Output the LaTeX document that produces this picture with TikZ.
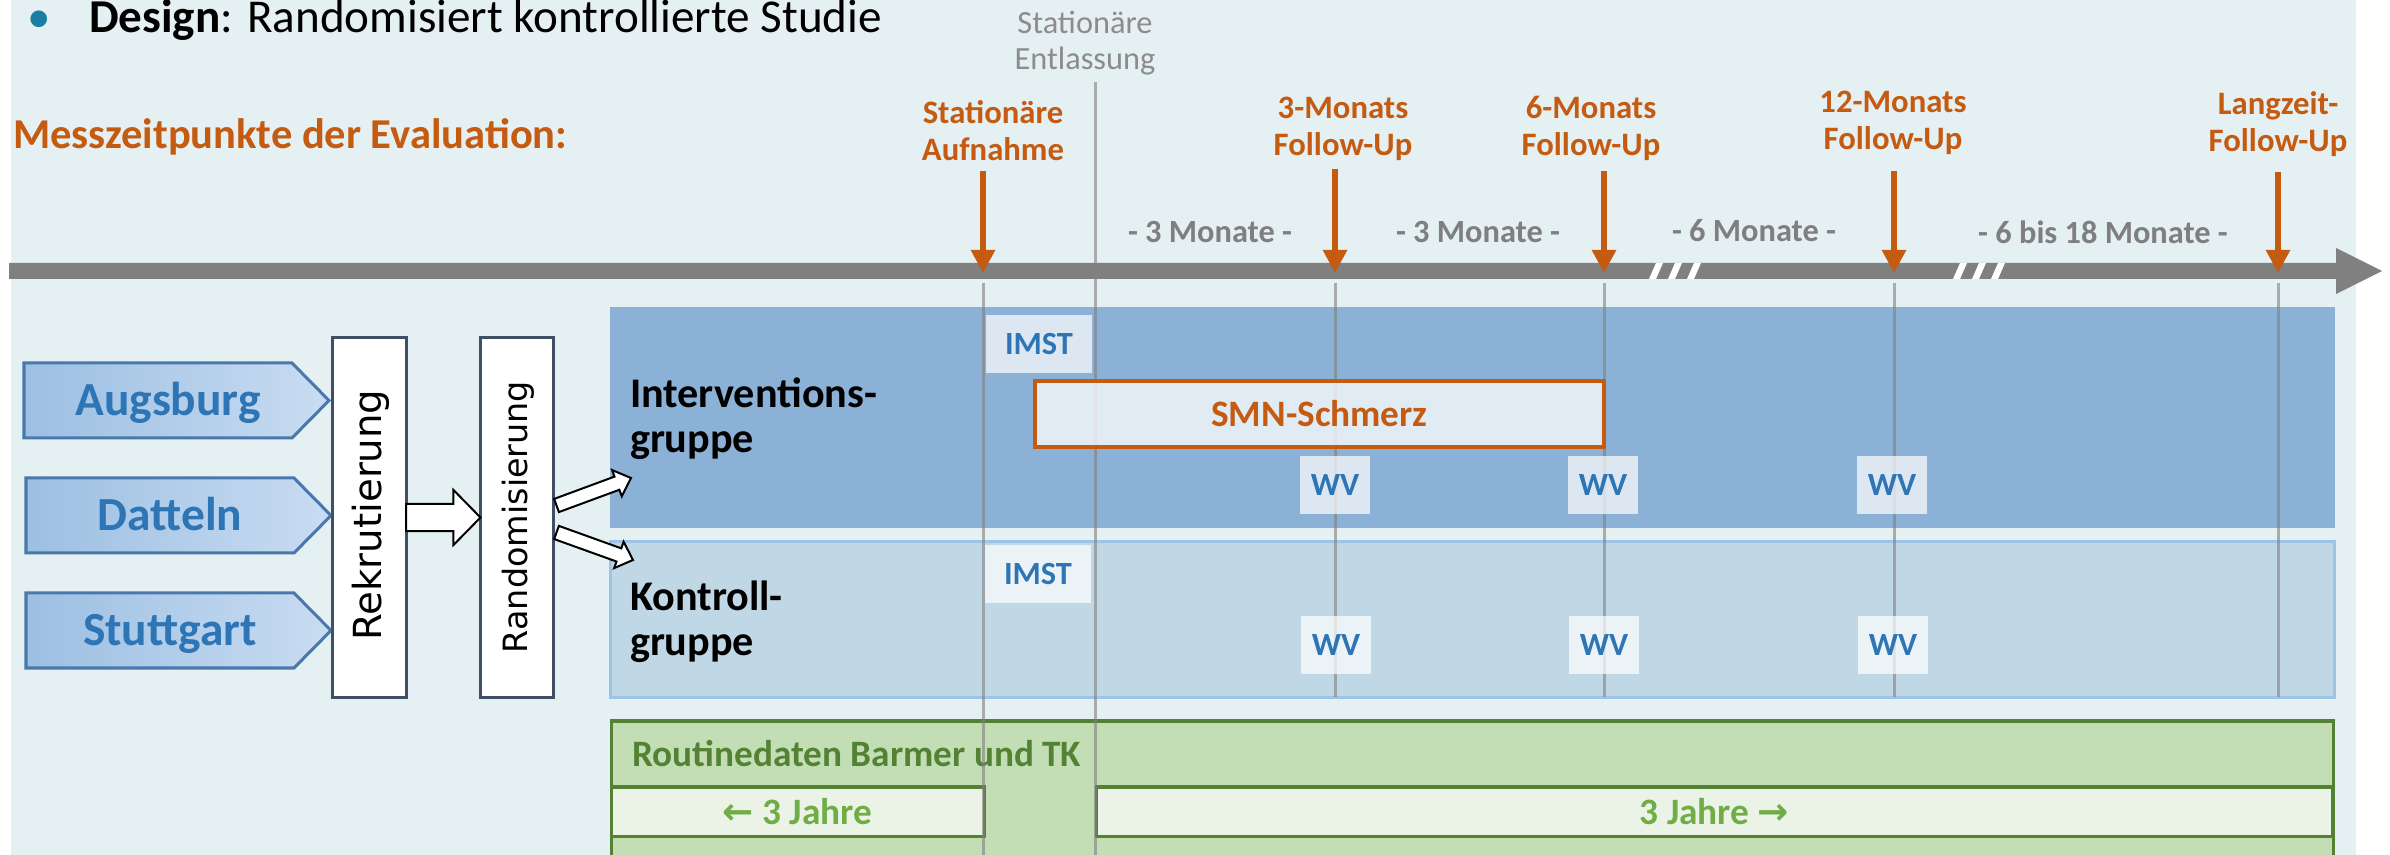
\documentclass[tikz,border=0pt]{standalone}
\usepackage{fontspec}
\setmainfont{Carlito}
\newfontfamily\vfont{DejaVu Sans}
\newfontfamily\arrowfont{DejaVu Sans}
\usetikzlibrary{calc,arrows.meta}

\definecolor{bg}{HTML}{E4F0F2}
\definecolor{axisgray}{HTML}{808080}
\definecolor{orng}{HTML}{C55A11}
\definecolor{txtgray}{HTML}{7F7F7F}
\definecolor{softgray}{HTML}{8C8C8C}
\definecolor{bluetxt}{HTML}{2E75B6}
\definecolor{intfill}{HTML}{8BB1D6}
\definecolor{kontfill}{HTML}{C0D8E6}
\definecolor{kontedge}{HTML}{9DC3E6}
\definecolor{grfill}{HTML}{C3DEB5}
\definecolor{gredge}{HTML}{548235}
\definecolor{grlight}{HTML}{EBF3E7}
\definecolor{grtext}{HTML}{70AD47}
\definecolor{siteA}{HTML}{9CBFE2}
\definecolor{siteB}{HTML}{C9DCF2}
\definecolor{siteedge}{HTML}{4A78AC}
\definecolor{stepedge}{HTML}{3E4F66}
\definecolor{bulletcol}{HTML}{1B7FA3}

% block arrow: #1 start, #2 tip, #3 half shaft, #4 half head, #5 head length
\newcommand\blockarrow[5]{%
  \coordinate (ba-h) at ($(#2)!#5!(#1)$);
  \draw[blockarr]
    ($(#1)!#3!90:(#2)$) -- ($(ba-h)!#3!90:(#2)$) -- ($(ba-h)!#4!90:(#2)$)
    -- (#2)
    -- ($(ba-h)!#4!-90:(#2)$) -- ($(ba-h)!#3!-90:(#2)$) -- ($(#1)!#3!-90:(#2)$)
    -- cycle;
}
% pentagon-shaped site label: #1 name, #2 left x, #3 top y, #4 text
\newcommand\sitelabel[4]{%
  \path[sitebox] (#2,#3) -- ++(268,0) -- ++(37,37.5) -- ++(-37,37.5) -- ++(-268,0) -- cycle;
  \node[sitetext] (#1) at (#2+144,#3+52.5) {#4};
}

\begin{document}
\begin{tikzpicture}[x=0.01cm,y=-0.01cm,
  every node/.style={inner sep=0pt,outer sep=0pt},
  sitebox/.style={left color=siteA, right color=siteB, draw=siteedge,
    line width=0.03cm, line join=miter},
  sitetext/.style={anchor=base, text=bluetxt,
    font=\fontsize{13.5}{15}\selectfont\bfseries},
  stepbox/.style={draw=stepedge, fill=white, line width=0.03cm,
    minimum width=0.73cm, minimum height=3.59cm},
  steptext/.style={rotate=90},
  blockarr/.style={draw=black, fill=white, line width=0.02cm, line join=miter},
  guide/.style={draw=axisgray, line width=0.03cm, draw opacity=0.6},
  marker/.style={draw=orng, line width=0.06cm,
    -{Triangle[width=0.23cm,length=0.23cm]}},
  marklabel/.style={text=orng, align=center, anchor=base,
    font=\fontsize{9.3}{10.8}\selectfont\bfseries},
  gaplabel/.style={text=txtgray, anchor=base,
    font=\fontsize{9.2}{11}\selectfont\bfseries},
  grouplabel/.style={align=left, anchor=base west,
    font=\fontsize{12}{12.8}\selectfont\bfseries},
  tagbox/.style={fill=white, fill opacity=0.7, text opacity=1, text=bluetxt,
    font=\fontsize{9.2}{11}\selectfont\bfseries, minimum height=0.58cm},
  yearbox/.style={fill=grlight, draw=gredge, line width=0.03cm,
    minimum height=0.49cm, anchor=north west, text=grtext,
    font=\fontsize{10.6}{12}\selectfont\bfseries}
]
\clip (0,0) rectangle (2390,855);
\fill[white] (0,0) rectangle (2390,855);
\fill[bg] (11,0) rectangle (2356,855);

% heading
\node[anchor=base, text=bulletcol, font=\fontsize{13.4}{15}\selectfont] (bul) at (39,33) {\textbullet};
\node[anchor=base west, font=\fontsize{13.4}{15}\selectfont] (design) at (89,33)
  {\textbf{Design}: Randomisiert kontrollierte Studie};
\node[anchor=base west, text=orng, font=\fontsize{12.1}{14}\selectfont\bfseries] (mess) at (13,149)
  {Messzeitpunkte der Evaluation:};

% study arms and routine data
\node[fill=intfill, minimum width=17.24cm, minimum height=2.21cm, anchor=north west] (ig) at (610,307) {};
\node[fill=kontfill, draw=kontedge, line width=0.03cm, minimum width=17.23cm, minimum height=1.55cm, anchor=north west] (kg) at (610,542) {};
\node[fill=grfill, draw=gredge, line width=0.03cm, minimum width=17.21cm, minimum height=1.6cm, anchor=north west] (rd) at (611,721) {};
\node[yearbox, minimum width=3.73cm] (jl) at (611,787) {{\arrowfont\bfseries ←} 3 Jahre};
\node[yearbox, minimum width=12.36cm] (jr) at (1096,787) {3 Jahre {\arrowfont\bfseries →}};
\node[anchor=base west, text=gredge, font=\fontsize{10.6}{12}\selectfont\bfseries] (rdtxt) at (632,766)
  {Routinedaten Barmer und TK};

% guide lines of the time points
\draw[guide] (983,283) -- (983,855);
\draw[guide] (1095,82) -- (1095,855);
\foreach \gx in {1335,1604,1894,2278}
  \draw[guide] (\gx,283) -- (\gx,697);

% time axis
\fill[axisgray] (9,263) -- (2336,263) -- (2336,248) -- (2382,271) -- (2336,294) -- (2336,279) -- (9,279) -- cycle;
\foreach \b in {1649,1668,1687,1953,1972,1991}
  \fill[white] (\b,279) -- (\b+7,279) -- (\b+14,263) -- (\b+7,263) -- cycle;

% time points (base anchor = baseline of the last line)
\node[marklabel] (p0) at (993,161) {Stationäre\\Aufnahme};
\node[marklabel] (p1) at (1343,156) {3-Monats\\Follow-Up};
\node[marklabel] (p2) at (1591,156) {6-Monats\\Follow-Up};
\node[marklabel] (p3) at (1893,150) {12-Monats\\Follow-Up};
\node[marklabel] (p4) at (2278,152) {Langzeit-\\Follow-Up};
\node[text=softgray, align=center, anchor=base, font=\fontsize{9.2}{10.5}\selectfont] (dis) at (1085,70)
  {Stationäre\\Entlassung};
\foreach \i/\mx/\my in {0/983/171,1/1335/169,2/1604/171,3/1894/171,4/2278/172}{
  \coordinate (s\i) at (\mx,\my);
  \coordinate (e\i) at (\mx,273);
  \draw[marker] (s\i) -- (e\i);
}
\node[gaplabel] (g1) at (1210,243) {- 3 Monate -};
\node[gaplabel] (g2) at (1478,243) {- 3 Monate -};
\node[gaplabel] (g3) at (1754,242) {- 6 Monate -};
\node[gaplabel] (g4) at (2103,244) {- 6 bis 18 Monate -};

% measurements
\node[tagbox, minimum width=1.05cm] (imst1) at (1039,344) {IMST};
\node[tagbox, minimum width=1.05cm] (imst2) at (1038,574) {IMST};
\node[fill=white, fill opacity=0.75, text opacity=1, draw=orng, line width=0.04cm,
  minimum width=5.69cm, minimum height=0.66cm, text=orng,
  font=\fontsize{10.6}{12}\selectfont\bfseries] (smn) at (1319.5,414) {SMN-Schmerz};
\foreach \gx/\n in {1335/a,1603/b,1892/c}{
  \node[tagbox, minimum width=0.69cm] (wvi\n) at (\gx,485) {WV};
  \node[tagbox, minimum width=0.69cm] (wvk\n) at (\gx+1,645) {WV};
}
\node[grouplabel] (igtxt) at (630,453) {Interventions-\\gruppe};
\node[grouplabel] (kgtxt) at (630,656) {Kontroll-\\gruppe};

% recruitment sites
\sitelabel{aug}{24}{363}{Augsburg}
\sitelabel{dat}{26}{478}{Datteln}
\sitelabel{stu}{26}{593}{Stuttgart}

% recruitment and randomisation
\node[stepbox] (rek) at (369.5,517.5) {};
\node[steptext, font=\vfont\fontsize{11}{13}\selectfont] (rektxt) at (371,515) {Rekrutierung};
\node[stepbox] (rand) at (517,517.5) {};
\node[steptext, font=\vfont\fontsize{9.5}{11}\selectfont] (randtxt) at (518,517) {Randomisierung};

\blockarrow{rek.east}{rand.west}{0.135cm}{0.275cm}{0.27cm}
\coordinate (ru) at ($(rand.east)+(3,-12)$);
\coordinate (rl) at ($(rand.east)+(3,15)$);
\coordinate (igin) at (631,478);
\coordinate (kgin) at (633,560);
\blockarrow{ru}{igin}{0.07cm}{0.14cm}{0.15cm}
\blockarrow{rl}{kgin}{0.07cm}{0.14cm}{0.15cm}
\end{tikzpicture}
\end{document}
